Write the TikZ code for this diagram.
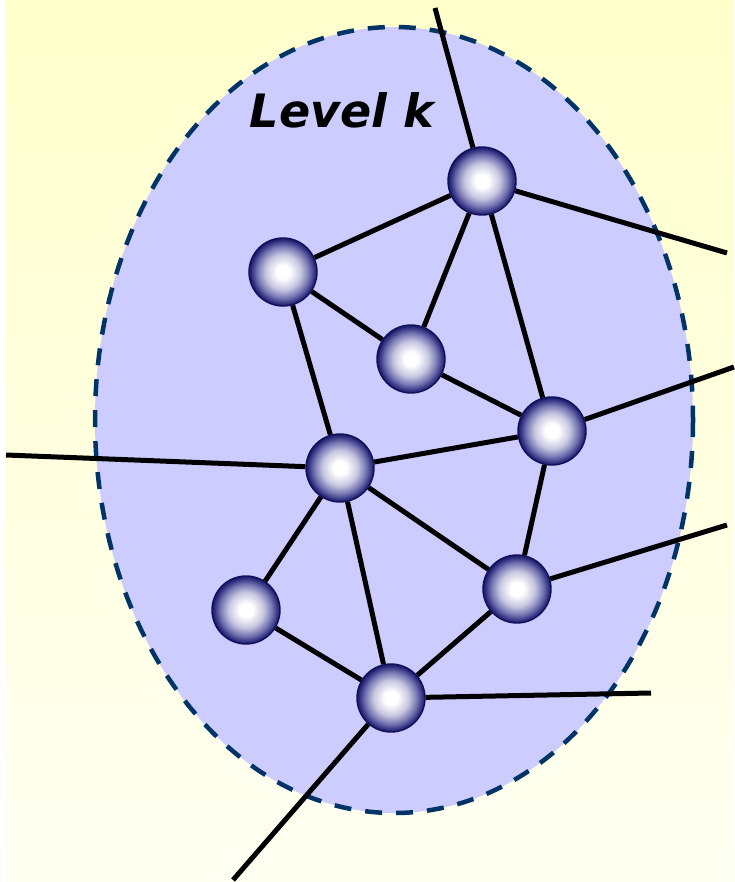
\documentclass[tikz,border=0pt]{standalone}
\usepackage{fontspec}
\newfontfamily\labelfont{DejaVu Sans}
\definecolor{sphmid}{HTML}{C6C6E0}
\definecolor{sphdark}{HTML}{7676B4}
\definecolor{sphdeep}{HTML}{2C2C7C}
\definecolor{sphedge}{HTML}{181868}
\definecolor{bgtop}{HTML}{FFFFCC}
\definecolor{bgbot}{HTML}{FFFFF2}
\definecolor{ellfill}{HTML}{CCCCFF}
\definecolor{elldash}{HTML}{003366}
\definecolor{ballline}{HTML}{10105A}
\pgfdeclareradialshading{sphereshade}{\pgfpoint{0bp}{0bp}}{%
  color(0bp)=(white);
  color(5bp)=(white);
  color(13bp)=(sphmid);
  color(19bp)=(sphdark);
  color(23.5bp)=(sphdeep);
  color(25bp)=(sphedge);
  color(50bp)=(sphedge)}
\tikzset{
  ball/.style={circle, minimum size=68pt, inner sep=0pt, shading=sphereshade, draw=ballline, line width=1.4pt},
  link/.style={line width=5pt, black},
}
\begin{document}
\begin{tikzpicture}[x=1pt,y=-1pt]
\useasboundingbox (0,0) rectangle (734,882);
\fill[white] (0,0) rectangle (734,882);
\shade[top color=bgtop, bottom color=bgbot] (6,0) rectangle (734,882);
\filldraw[fill=ellfill, draw=elldash, line width=4.5pt, dash pattern=on 17pt off 14pt] (394,420) ellipse [x radius=299, y radius=393];
\node[font=\labelfont\bfseries\itshape\fontsize{46}{52}\selectfont, anchor=center] (lbl) at (342,110) {Level k};
\node[ball] (A) at (482,181) {};
\node[ball] (B) at (283,272) {};
\node[ball] (C) at (411,359) {};
\node[ball] (D) at (552,431) {};
\node[ball] (E) at (340,468) {};
\node[ball] (F) at (517,589) {};
\node[ball] (G) at (246,610) {};
\node[ball] (H) at (391,698) {};
\coordinate (xA1) at (435,8);
\coordinate (xA2) at (727,253);
\coordinate (xD) at (734,367);
\coordinate (xE) at (6,455);
\coordinate (xF) at (727,525);
\coordinate (xH1) at (651,693);
\coordinate (xH2) at (233,880);
\draw[link] (A)--(B) (A)--(C) (A)--(D) (B)--(C) (B)--(E) (C)--(D) (D)--(E) (D)--(F)
  (E)--(G) (E)--(H) (E)--(F) (G)--(H) (H)--(F);
\draw[link] (A)--(xA1) (A)--(xA2) (D)--(xD) (E)--(xE) (F)--(xF) (H)--(xH1) (H)--(xH2);
\end{tikzpicture}
\end{document}
